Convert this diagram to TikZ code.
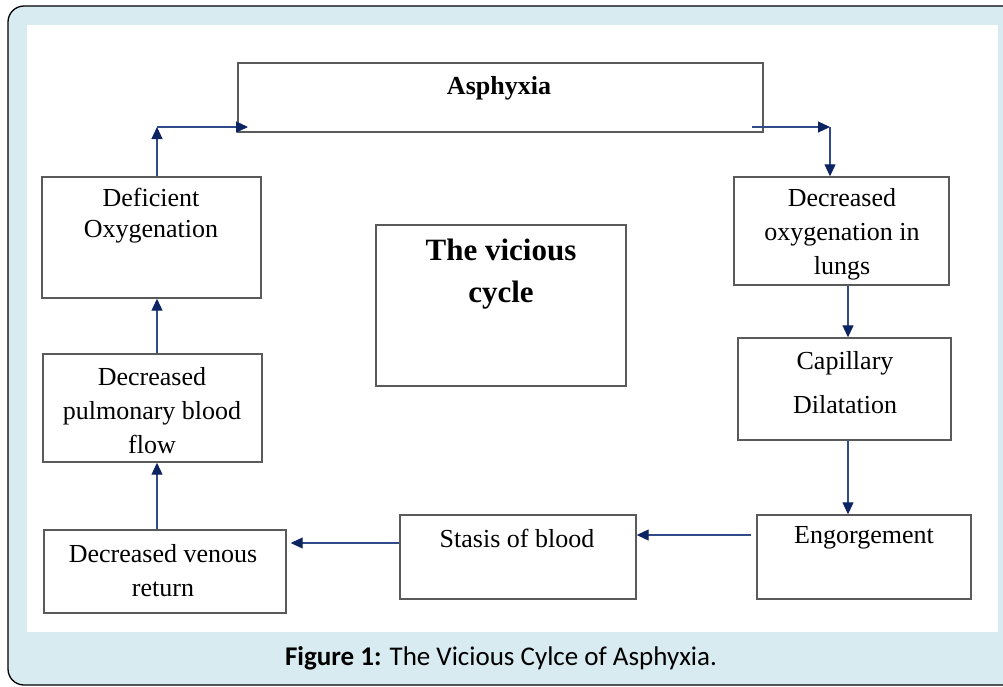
\documentclass[tikz,border=0pt]{standalone}
\usepackage{fontspec}
\setmainfont{Liberation Serif}
\newfontfamily\capfont{Carlito}
\usetikzlibrary{arrows.meta}
\definecolor{bgblue}{HTML}{D7EBF1}
\definecolor{arrowc}{HTML}{2F4B8A}
\definecolor{tipc}{HTML}{0D2463}
\definecolor{boxc}{HTML}{5A5A5A}
\begin{document}
\begin{tikzpicture}[x=1pt,y=-1pt,
  box/.style={draw=boxc, line width=1.4pt, fill=white, inner sep=0pt},
  txt/.style={align=center, font=\fontsize{26}{34}\selectfont, text=black, inner sep=0pt},
  flow/.style={draw=arrowc, line width=1.1pt, -{Triangle[length=12pt,width=11pt,color=tipc]}},
]
\useasboundingbox (0,0) rectangle (1003,686);
% frame
\fill[bgblue, draw=black, line width=1.3pt, rounded corners=16pt] (8,6) rectangle (1040,685);
\fill[white] (27,25) rectangle (998,632);

% boxes
\node[box, minimum width=525pt, minimum height=69pt] (asph) at (500.5,97.5) {};
\node[box, minimum width=219pt, minimum height=121pt] (def) at (151.5,237.5) {};
\node[box, minimum width=215pt, minimum height=108pt] (dol) at (841.5,231) {};
\node[box, minimum width=250pt, minimum height=161pt] (vc) at (501,305.5) {};
\node[box, minimum width=213pt, minimum height=102pt] (cap) at (844.5,389) {};
\node[box, minimum width=219pt, minimum height=108pt] (pul) at (152.5,408) {};
\node[box, minimum width=242pt, minimum height=83pt] (ven) at (165,571.5) {};
\node[box, minimum width=236pt, minimum height=84pt] (sta) at (518,557) {};
\node[box, minimum width=214pt, minimum height=84pt] (eng) at (864,557) {};

% texts
\node[txt, font=\bfseries\fontsize{26}{34}\selectfont] (asph-t) at (499,88) {Asphyxia};
\node[txt, font=\fontsize{26}{31}\selectfont] (def-t) at (151,216) {Deficient\\Oxygenation};
\node[txt] (dol-t) at (842,234) {Decreased\\oxygenation in\\lungs};
\node[txt, font=\bfseries\fontsize{31}{42}\selectfont] (vc-t) at (501,274) {The vicious\\cycle};
\node[txt, font=\fontsize{26}{44}\selectfont] (cap-t) at (845,383) {Capillary\\Dilatation};
\node[txt] (pul-t) at (152,411) {Decreased\\pulmonary blood\\flow};
\node[txt] (ven-t) at (163,571) {Decreased venous\\return};
\node[txt] (sta-t) at (517,538) {Stasis of blood};
\node[txt] (eng-t) at (864,538) {Engorgement};

% connectors
\coordinate (c1) at (157,127);
\coordinate (a1) at (248,127);
\coordinate (a2) at (752,127);
\coordinate (c2) at (830,127);
\draw[flow] (c1 |- def.north) -- (c1);
\draw[flow] (c1) -- (a1);
\draw[flow] (a2) -- (c2);
\draw[flow] (c2) -- (c2 |- dol.north);
\draw[flow] ([xshift=6.5pt]dol.south) -- ([xshift=3.5pt]cap.north);
\draw[flow] ([xshift=3.5pt]cap.south) -- ([xshift=-16pt]eng.north);
\draw[flow] ([xshift=-5pt,yshift=22pt]eng.west) -- ([yshift=22pt]sta.east);
\draw[flow] ([yshift=14pt]sta.west) -- ([xshift=4pt,yshift=28.5pt]ven.east);
\draw[flow] ([xshift=-8pt]ven.north) -- ([xshift=4.5pt]pul.south);
\draw[flow] ([xshift=4.5pt]pul.north) -- ([xshift=5.5pt]def.south);

% caption
\node[font=\capfont\fontsize{27}{32}\selectfont, inner sep=0pt] (caption) at (501,658) {\textbf{Figure 1:} The Vicious Cylce of Asphyxia.};
\end{tikzpicture}
\end{document}
